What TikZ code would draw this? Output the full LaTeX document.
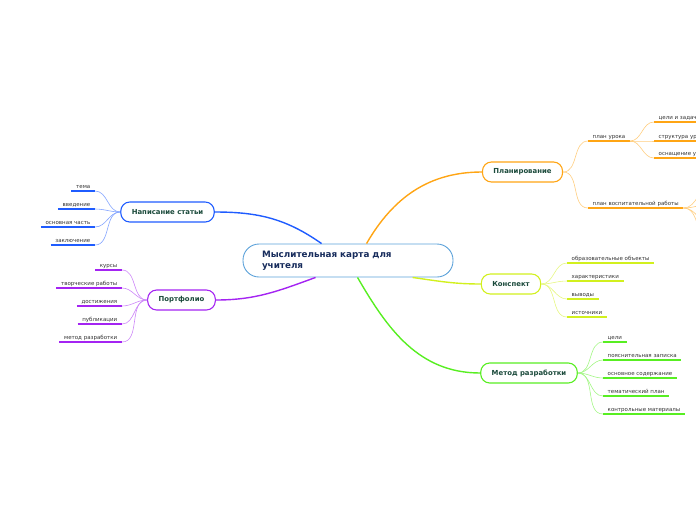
\documentclass[tikz,border=0pt]{standalone}
\usepackage{fontspec}
\setmainfont{DejaVu Sans}
\definecolor{mapblue}{HTML}{1F5CFF}
\definecolor{mappurple}{HTML}{A424F2}
\definecolor{maporange}{HTML}{FFA514}
\definecolor{mapyellow}{HTML}{D2F01E}
\definecolor{mapgreen}{HTML}{58EE22}
\definecolor{mapcore}{HTML}{5CA2DA}
\definecolor{topictext}{HTML}{1B4A3B}
\definecolor{coretext}{HTML}{172C5C}
\definecolor{leaftext}{HTML}{333333}
\tikzset{
  core/.style={draw=mapcore, line width=0.9pt, rounded corners=16pt, fill=white,
    font=\bfseries\fontsize{8.8}{10.8}\selectfont, text=coretext, align=left,
    text width=172pt, minimum height=33pt, inner xsep=19pt},
  topic/.style={draw=#1, line width=1.1pt, rounded corners=9pt, fill=white,
    font=\bfseries\fontsize{6.9}{8}\selectfont, text=topictext,
    minimum height=20pt, inner xsep=11pt},
  leaf/.style={font=\fontsize{5.5}{6}\selectfont, text=leaftext, inner xsep=4.5pt,
    inner ysep=1.6pt, text height=4.2pt, text depth=1.1pt,
    append after command={(\tikzlastnode.south west) edge[line width=1.7pt, draw=#1] (\tikzlastnode.south east)}},
  branch/.style={line width=1.4pt, draw=#1},
  twig/.style={line width=0.6pt, draw=#1!55},
}
\begin{document}
\begin{tikzpicture}[x=1pt,y=1pt]
\useasboundingbox (0,0) rectangle (696,-520);
\clip (0,0) rectangle (696,-520);

% Главный узел
\node[core] (map) at (348,-260.5) {Мыслительная карта для\\учителя};

% Ветви
\node[topic=mapblue] (stat) at (167.5,-212) {Написание статьи};
\node[topic=mappurple] (port) at (181.5,-300) {Портфолио};
\node[topic=maporange] (plan) at (522.5,-172) {Планирование};
\node[topic=mapyellow] (kon) at (511,-284) {Конспект};
\node[topic=mapgreen] (metod) at (529,-373) {Метод разработки};

\draw[branch=mapblue] ([xshift=79pt]map.north west) to[out=145,in=0] (stat.east);
\draw[branch=mappurple] ([xshift=73pt]map.south west) to[out=200,in=0] (port.east);
\draw[branch=maporange] ([xshift=124pt]map.north west) to[out=60,in=180] (plan.west);
\draw[branch=mapyellow] ([xshift=170pt]map.south west) to[out=-8,in=180] (kon.west);
\draw[branch=mapgreen] ([xshift=115pt]map.south west) to[out=-60,in=180] (metod.west);

% Написание статьи
\node[leaf=mapblue, anchor=south east] (tema) at (95,-191) {тема};
\node[leaf=mapblue, anchor=south east] (vved) at (95,-209) {введение};
\node[leaf=mapblue, anchor=south east] (osn) at (95,-227) {основная часть};
\node[leaf=mapblue, anchor=south east] (zakl) at (95,-245) {заключение};
\foreach \n in {tema,vved,osn,zakl}
  \draw[twig=mapblue] (stat.west) to[out=180,in=0] (\n.south east);

% Портфолио
\node[leaf=mappurple, anchor=south east] (kurs) at (122,-270) {курсы};
\node[leaf=mappurple, anchor=south east] (tvor) at (122,-288) {творческие работы};
\node[leaf=mappurple, anchor=south east] (dost) at (122,-306) {достижения};
\node[leaf=mappurple, anchor=south east] (publ) at (122,-324) {публикации};
\node[leaf=mappurple, anchor=south east] (mraz) at (122,-342) {метод разработки};
\foreach \n in {kurs,tvor,dost,publ,mraz}
  \draw[twig=mappurple] (port.west) to[out=180,in=0] (\n.south east);

% Планирование
\node[leaf=maporange, anchor=south west] (purok) at (588,-141) {план урока};
\node[leaf=maporange, anchor=south west] (pvosp) at (588,-208) {план воспитательной работы};
\foreach \n in {purok,pvosp}
  \draw[twig=maporange] (plan.east) to[out=0,in=180] (\n.south west);
\node[leaf=maporange, anchor=south west] (czad) at (654,-122) {цели и задачи};
\node[leaf=maporange, anchor=south west] (struk) at (654,-141) {структура урока};
\node[leaf=maporange, anchor=south west] (osnas) at (654,-158) {оснащение урока};
\foreach \n in {czad,struk,osnas}
  \draw[twig=maporange] (purok.south east) to[out=0,in=180] (\n.south west);
\coordinate (pv1) at (712,-186);
\coordinate (pv2) at (712,-204);
\coordinate (pv3) at (712,-224);
\coordinate (pv4) at (712,-242);
\foreach \n in {pv1,pv2,pv3,pv4}
  \draw[twig=maporange] (pvosp.south east) to[out=0,in=180] (\n);

% Конспект
\node[leaf=mapyellow, anchor=south west] (obr) at (567,-263) {образовательные объекты};
\node[leaf=mapyellow, anchor=south west] (har) at (567,-281) {характеристики};
\node[leaf=mapyellow, anchor=south west] (vyv) at (567,-299) {выводы};
\node[leaf=mapyellow, anchor=south west] (ist) at (567,-317) {источники};
\foreach \n in {obr,har,vyv,ist}
  \draw[twig=mapyellow] (kon.east) to[out=0,in=180] (\n.south west);

% Метод разработки
\node[leaf=mapgreen, anchor=south west] (celi) at (603,-342) {цели};
\node[leaf=mapgreen, anchor=south west] (poy) at (603,-360) {пояснительная записка};
\node[leaf=mapgreen, anchor=south west] (soder) at (603,-378) {основное содержание};
\node[leaf=mapgreen, anchor=south west] (tplan) at (603,-396) {тематический план};
\node[leaf=mapgreen, anchor=south west] (kmat) at (603,-414) {контрольные материалы};
\foreach \n in {celi,poy,soder,tplan,kmat}
  \draw[twig=mapgreen] (metod.east) to[out=0,in=180] (\n.south west);
\end{tikzpicture}
\end{document}
